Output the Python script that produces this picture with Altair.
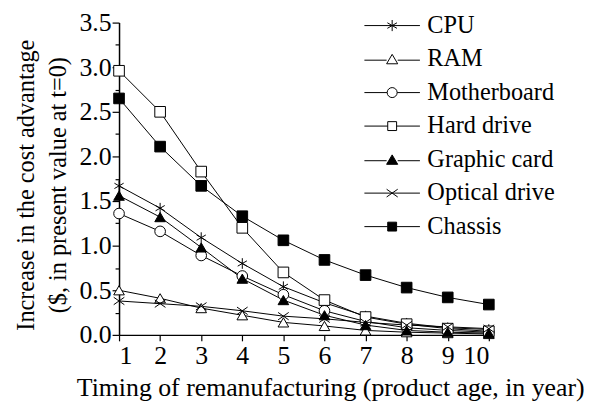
import altair as alt
import pandas as pd

years = [1, 2, 3, 4, 5, 6, 7, 8, 9, 10]
components = ["CPU", "RAM", "Motherboard", "Hard drive", "Graphic card", "Optical drive", "Chassis"]
cpu = [1.67, 1.42, 1.09, 0.80, 0.54, 0.36, 0.21, 0.13, 0.08, 0.06]
ram = [0.50, 0.41, 0.30, 0.22, 0.14, 0.10, 0.05, 0.03, 0.02, 0.01]
motherboard = [1.36, 1.16, 0.89, 0.66, 0.45, 0.27, 0.15, 0.08, 0.05, 0.03]
hard_drive = [2.96, 2.50, 1.83, 1.20, 0.70, 0.39, 0.20, 0.12, 0.07, 0.04]
graphic_card = [1.56, 1.32, 0.98, 0.63, 0.39, 0.22, 0.11, 0.05, 0.03, 0.02]
optical_drive = [0.38, 0.35, 0.32, 0.27, 0.21, 0.18, 0.14, 0.11, 0.09, 0.07]
chassis = [2.65, 2.11, 1.67, 1.33, 1.06, 0.84, 0.67, 0.53, 0.42, 0.34]

series = [cpu, ram, motherboard, hard_drive, graphic_card, optical_drive, chassis]
rows = []
for name, vals in zip(components, series):
    for t, v in zip(years, vals):
        rows.append({"t": t, "value": v, "component": name})
df = pd.DataFrame(rows)

# plot markers (unit coords)
plot_shapes = [
    "M0,-1L0,1M-0.866,-0.5L0.866,0.5M-0.866,0.5L0.866,-0.5",
    "triangle-up",
    "circle",
    "square",
    "triangle-up",
    "M-1,-0.7L1,0.7M-1,0.7L1,-0.7",
    "square",
]
fills = ["white", "white", "white", "white", "black", "white", "black"]
strokes = ["black"] * 7

# legend symbols: line with marker in the middle
legend_shapes = [
    "M-1,0L1,0M0,-0.2L0,0.2M-0.173,-0.1L0.173,0.1M-0.173,0.1L0.173,-0.1",
    "M-1,0.04L-0.2,0.04M0.2,0.04L1,0.04M0,-0.17L0.2,0.17L-0.2,0.17Z",
    "M-1,0L-0.18,0M0.18,0L1,0M-0.18,0A0.18,0.18,0,1,1,0.18,0A0.18,0.18,0,1,1,-0.18,0Z",
    "M-1,0L-0.16,0M0.16,0L1,0M-0.16,-0.16L0.16,-0.16L0.16,0.16L-0.16,0.16Z",
    "M-1,0.04L-0.2,0.04M0.2,0.04L1,0.04M0,-0.17L0.2,0.17L-0.2,0.17Z",
    "M-1,0L1,0M-0.2,-0.14L0.2,0.14M-0.2,0.14L0.2,-0.14",
    "M-1,0L-0.16,0M0.16,0L1,0M-0.16,-0.16L0.16,-0.16L0.16,0.16L-0.16,0.16Z",
]

FONT = "Liberation Serif"
TOP = 21
H = 336 - TOP

x = alt.X("t:Q", scale=alt.Scale(domain=[1, 10], nice=False),
          axis=alt.Axis(values=years, title="Timing of remanufacturing (product age, in year)",
                        grid=False, tickSize=6, labelPadding=2, titlePadding=6,
                        titleX=213, titleAlign="center",
                        labelFontSize=26, titleFontSize=26, format="d"))
y_vals = [i * 0.25 for i in range(15)]
y = alt.Y("value:Q", scale=alt.Scale(domain=[0, 3.5], nice=False),
          axis=alt.Axis(values=y_vals, grid=False,
                        title=["Increase in the cost advantage", "($, in present value at t=0)"],
                        labelExpr="(round(datum.value*100) % 50 == 0) ? format(datum.value, '.1f') : ''",
                        tickSize={"condition": {"test": "round(datum.value*100) % 50 == 0", "value": 7}, "value": 4},
                        labelPadding=1, titlePadding=8, labelFontSize=26, titleFontSize=24.5,
                        titleY=H / 2 + 6, titleLineHeight=33))

lines = alt.Chart(df).mark_line(color="black", strokeWidth=1).encode(
    x=x, y=y, detail="component:N", order="t:Q")

points = alt.Chart(df).mark_point(filled=False, stroke="black", strokeWidth=1, size=115, opacity=1).encode(
    x=x, y=y,
    shape=alt.Shape("component:N", scale=alt.Scale(domain=components, range=plot_shapes), legend=None),
    fill=alt.Fill("component:N", scale=alt.Scale(domain=components, range=fills), legend=None),
)

leg = alt.Legend(title=None, orient="none", legendX=247, legendY=24 - 11 - TOP, padding=0,
                 labelFontSize=24.5, labelFont=FONT, labelColor="black",
                 symbolSize=3136, symbolStrokeColor="black", symbolStrokeWidth=1, symbolOpacity=1,
                 clipHeight=22, labelOffset=7, rowPadding=8.8, labelLimit=300)
legend_layer = alt.Chart(df).transform_filter("datum.t < 0").mark_point(
    filled=False, opacity=1, size=3136, strokeWidth=1).encode(
    x=x, y=y,
    shape=alt.Shape("component:N", scale=alt.Scale(domain=components, range=legend_shapes), legend=leg),
    fill=alt.Fill("component:N", scale=alt.Scale(domain=components, range=fills), legend=leg),
    stroke=alt.Stroke("component:N", scale=alt.Scale(domain=components, range=strokes), legend=leg),
)

chart = alt.layer(lines, points, legend_layer).resolve_scale(
    shape="independent", fill="independent", stroke="independent"
).properties(
    width=373, height=H,
    autosize=alt.AutoSizeParams(type="none"),
    padding={"left": 112, "top": TOP - 8, "right": 96, "bottom": 68},
).configure(font=FONT).configure_view(stroke=None).configure_axis(
    domainColor="black", domainWidth=1.5, tickColor="black", tickWidth=1.2,
    labelColor="black", titleColor="black", labelFont=FONT, titleFont=FONT,
    titleFontWeight="normal",
)

chart.save("out.html", embed_options={"renderer": "svg", "actions": False})
